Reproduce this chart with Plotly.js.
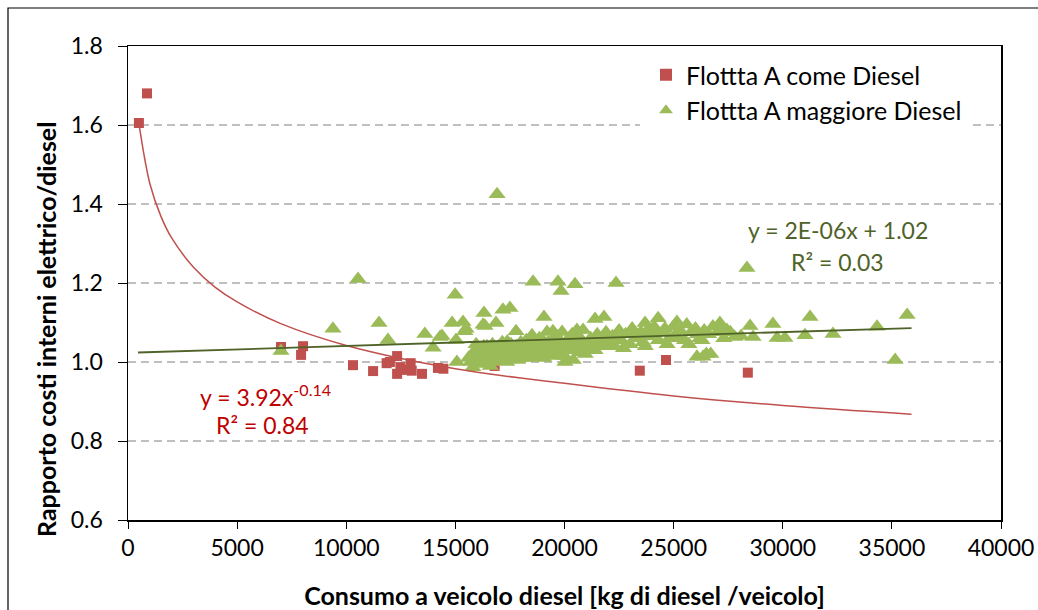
<!DOCTYPE html>
<html>
<head>
<meta charset="utf-8">
<script src="https://cdn.plot.ly/plotly-3.0.1.min.js"></script>
<style>
html,body{margin:0;padding:0;background:#fff;}
#chart{width:1038px;height:610px;}
</style>
</head>
<body>
<div id="chart"></div>
<script>
// ---- Data ----
const seriesNames = ["Flottta A come Diesel", "Flottta A maggiore Diesel"];

// Series 1: Flottta A come Diesel (red squares)
const redX = [500, 870, 7010, 8020, 7930, 10310, 11230, 11850, 12000, 12330, 12330, 12480, 12700, 12950, 13000, 13470, 14200, 14450, 16800, 23450, 24650, 28400];
const redY = [1.605, 1.68, 1.038, 1.04, 1.018, 0.992, 0.977, 0.997, 1.0, 1.015, 0.97, 0.987, 0.98, 0.997, 0.978, 0.97, 0.985, 0.983, 0.99, 0.978, 1.005, 0.973];

// Series 2: Flottta A maggiore Diesel (green triangles)
const greenX = [
  7010, 9390, 10540, 11500, 11910, 13600, 13980, 14300, 14390, 14850, 14990, 15030, 15070, 15350, 15440, 15490, 15800,
  16270, 16310, 16360, 16860, 16910, 17180, 17370, 17500, 17780, 18510, 18560, 19060, 19200, 19470, 19700, 19840, 19890,
  20020, 20480, 20570, 20850, 21400, 21810, 22360, 23690, 24290, 25150, 26070, 26350, 27120, 27440, 27800, 28090, 28360,
  28500, 28640, 29550, 29740, 30100, 31020, 31250, 32300, 34320, 35150, 35700,
  15600, 15800, 15900, 16000, 16100, 16200, 16300, 16400, 16500, 16600, 16700, 16800, 16900, 17000, 17100, 17200, 17300,
  17400, 17500, 17600, 17700, 17800, 17900, 18000, 18100, 18200, 18300, 18400, 18500, 18600, 18700, 18800, 18900, 19000,
  19100, 19200, 19300, 19400, 19500, 19600, 19700, 19800, 19900, 20000, 20100, 20200, 20300, 20400, 20500, 20600, 20700,
  20800, 20900, 21000, 21200, 21300, 21500, 21600, 21800, 21900, 22000, 22200, 22300, 22500, 22600, 22800, 23000, 23100,
  23300, 23500, 23600, 23800, 24000, 24100, 24300, 24500, 24600, 24800, 25000, 25100, 25300, 25500, 25600, 25800, 26000,
  26200, 26400, 26600, 26800, 27000, 27300, 26500, 26700, 16200, 16600, 20400,
  15700, 15950, 16150, 16450, 16650, 16950, 17150, 17350, 17550, 17850, 18050, 18250, 18450, 18650, 18850, 19050, 19250,
  19450, 19650, 19850, 20150, 20350, 20650, 20950, 21100, 21400, 21700, 22100, 22400, 22700, 23200, 23700, 24200, 24700,
  25200, 25700, 26100, 26300, 27200, 27600
];
const greenY = [
  1.028, 1.084, 1.21, 1.099, 1.056, 1.071, 1.036, 1.063, 1.066, 1.099, 1.17, 1.056, 1.0, 1.101, 1.078, 1.084, 0.987,
  1.094, 1.124, 1.091, 1.099, 1.425, 1.132, 1.051, 1.137, 1.078, 1.068, 1.203, 1.114, 1.076, 1.078, 1.203, 1.18, 1.076,
  1.0, 1.197, 1.081, 1.081, 1.109, 1.114, 1.2, 1.099, 1.111, 1.101, 1.013, 1.013, 1.099, 1.081, 1.063, 1.066, 1.238,
  1.091, 1.063, 1.096, 1.061, 1.061, 1.068, 1.114, 1.071, 1.089, 1.005, 1.119,
  1.01, 1.02, 1.03, 1.005, 1.015, 1.03, 1.04, 1.02, 1.005, 1.03, 1.045, 1.015, 1.025, 1.04, 1.005, 1.02, 1.035,
  1.05, 1.015, 1.03, 1.01, 1.04, 1.02, 1.05, 1.03, 1.01, 1.045, 1.025, 1.035, 1.05, 1.015, 1.04, 1.025, 1.055,
  1.035, 1.02, 1.045, 1.03, 1.06, 1.04, 1.025, 1.05, 1.035, 1.015, 1.045, 1.06, 1.03, 1.05, 1.04, 1.065, 1.025,
  1.055, 1.045, 1.035, 1.06, 1.05, 1.07, 1.04, 1.06, 1.075, 1.05, 1.065, 1.04, 1.08, 1.055, 1.07, 1.045, 1.085,
  1.06, 1.075, 1.05, 1.08, 1.065, 1.09, 1.055, 1.075, 1.085, 1.06, 1.09, 1.07, 1.08, 1.055, 1.095, 1.075, 1.085,
  1.06, 1.08, 1.07, 1.09, 1.075, 1.06, 1.02, 1.02, 0.995, 0.99, 1.005,
  1.0, 1.045, 0.998, 1.04, 1.0, 1.01, 1.05, 1.0, 1.045, 1.005, 1.02, 1.055, 1.01, 1.03, 1.06, 1.01, 1.05,
  1.015, 1.065, 1.02, 1.03, 1.07, 1.04, 1.02, 1.045, 1.03, 1.05, 1.04, 1.06, 1.035, 1.07, 1.04, 1.075, 1.045,
  1.06, 1.045, 1.07, 1.055, 1.085, 1.075
];

// Trend lines as drawn in the reference
const powerTrendX = [500, 1000, 1500, 2000, 3000, 4000, 5000, 7000, 10000, 15000, 20000, 25000, 30000, 35900];
const powerTrendY = [1.604, 1.452, 1.370, 1.314, 1.240, 1.189, 1.152, 1.097, 1.042, 0.983, 0.946, 0.914, 0.890, 0.868];
const linTrendX = [460, 35900];
const linTrendY = [1.024, 1.086];

const redEqText = ["y = 3.92x<sup>-0.14</sup>", "R² = 0.84"];
const greenEqText = ["y = 2E-06x + 1.02", "R² = 0.03"];

const xTitle = "Consumo a veicolo diesel [kg di diesel /veicolo]";
const yTitle = "Rapporto costi interni elettrico/diesel";

// ---- Styles ----
const RED = "#C0504D", GREEN = "#9BBB59", DARKGREEN = "#4F6228", EQRED = "#C00000";
const FONT = "Lato, 'Liberation Sans', sans-serif";

const traces = [
  {x: redX, y: redY, mode: "markers", type: "scatter", name: seriesNames[0],
   marker: {symbol: "square", size: 10, color: RED}},
  {x: greenX, y: greenY, mode: "markers", type: "scatter", name: seriesNames[1],
   marker: {symbol: "triangle-up", size: 15, color: GREEN}},
  {x: powerTrendX, y: powerTrendY, mode: "lines", type: "scatter", showlegend: false,
   line: {color: RED, width: 1.5, shape: "spline"}, hoverinfo: "skip"},
  {x: linTrendX, y: linTrendY, mode: "lines", type: "scatter", showlegend: false,
   line: {color: DARKGREEN, width: 1.8}, hoverinfo: "skip"}
];

const L = 128, R = 1001, T = 46, B = 520, W = 1038, H = 610;
const px2x = p => (p - L) / (R - L);
const px2y = p => (B - p) / (B - T);

const layout = {
  width: W, height: H,
  margin: {l: L, r: W - R, t: T, b: H - B, pad: 0},
  paper_bgcolor: "#fff", plot_bgcolor: "#fff",
  font: {family: FONT, size: 22, color: "#000"},
  showlegend: true,
  legend: {x: px2x(640), y: px2y(46), xanchor: "left", yanchor: "top",
           bgcolor: "#fff", bordercolor: "#fff", borderwidth: 6, font: {family: FONT, size: 25, color: "#000"},
           itemsizing: "constant", tracegroupgap: 0, itemwidth: 30},
  xaxis: {range: [0, 40000], dtick: 5000, tick0: 0, tickformat: "d", showgrid: false, zeroline: false,
          showline: true, linecolor: "#000", linewidth: 1.5, mirror: true,
          ticks: "outside", ticklen: 7, tickcolor: "#000", tickwidth: 1,
          tickfont: {family: FONT, size: 23, color: "#000"},
          title: {text: "<b>" + xTitle + "</b>", font: {family: FONT, size: 25, color: "#000"}, standoff: 28}},
  yaxis: {range: [0.6, 1.8], dtick: 0.2, tick0: 0.6, tickformat: ".1f", zeroline: false,
          showgrid: true, gridcolor: "#BFBFBF", griddash: "8px,5px", gridwidth: 1.6,
          showline: true, linecolor: "#000", linewidth: 1.5, mirror: true,
          ticks: "outside", ticklen: 9, tickcolor: "#000", tickwidth: 1,
          ticklabelstandoff: 10,
          tickfont: {family: FONT, size: 23, color: "#000"}},
  annotations: [
    {xref: "paper", yref: "paper", x: px2x(46), y: px2y(330), text: "<b>" + yTitle + "</b>",
     textangle: -90, showarrow: false, xanchor: "center", yanchor: "middle",
     font: {family: FONT, size: 25, color: "#000"}},
    {x: 6280, y: 0.916, xref: "x", yref: "y", text: redEqText[0], showarrow: false,
     font: {family: FONT, size: 23, color: EQRED}},
    {x: 6140, y: 0.84, xref: "x", yref: "y", text: redEqText[1], showarrow: false,
     font: {family: FONT, size: 23, color: EQRED}},
    {x: 32530, y: 1.334, xref: "x", yref: "y", text: greenEqText[0], showarrow: false,
     font: {family: FONT, size: 23, color: DARKGREEN}},
    {x: 32530, y: 1.253, xref: "x", yref: "y", text: greenEqText[1], showarrow: false,
     font: {family: FONT, size: 23, color: DARKGREEN}}
  ],
  shapes: [
    {type: "rect", xref: "paper", yref: "paper", x0: px2x(8), x1: px2x(1060), y0: px2y(640), y1: px2y(8),
     line: {color: "#000", width: 1.2}, fillcolor: "rgba(0,0,0,0)", layer: "below"}
  ]
};

Plotly.newPlot("chart", traces, layout, {displayModeBar: false, staticPlot: true});
</script>
</body>
</html>
